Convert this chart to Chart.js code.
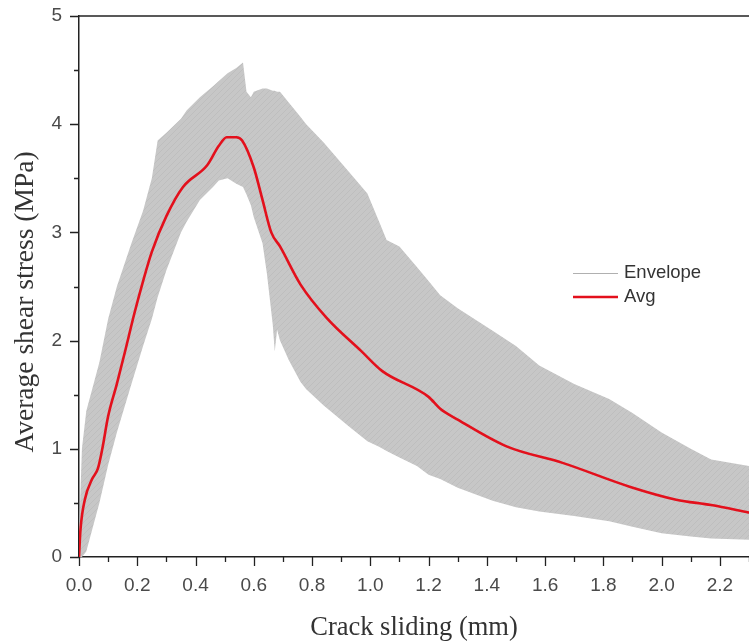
<!DOCTYPE html>
<html>
<head>
<meta charset="utf-8">
<script src="https://cdn.jsdelivr.net/npm/chart.js@4.4.1/dist/chart.umd.min.js"></script>
<style>
  html, body { margin: 0; padding: 0; background: #fff; }
  #wrap { position: relative; width: 749px; height: 644px; }
</style>
</head>
<body>
<div id="wrap"><canvas id="c" width="749" height="644"></canvas></div>
<script>
// ---- Data ----
const envX = [0.0, 0.01, 0.025, 0.05, 0.07, 0.10, 0.13, 0.18, 0.22, 0.25, 0.27, 0.30, 0.35, 0.37, 0.415, 0.46, 0.48, 0.51, 0.54, 0.563, 0.575, 0.59, 0.60, 0.63, 0.645, 0.665, 0.672, 0.68, 0.69, 0.72, 0.76, 0.78, 0.84, 0.93, 0.99, 1.03, 1.056, 1.10, 1.16, 1.20, 1.24, 1.30, 1.42, 1.50, 1.58, 1.70, 1.82, 1.90, 2.00, 2.10, 2.17, 2.30];
const envUpper = [0.2, 1.0, 1.35, 1.6, 1.8, 2.2, 2.5, 2.9, 3.2, 3.5, 3.85, 3.92, 4.05, 4.13, 4.25, 4.35, 4.4, 4.47, 4.52, 4.57, 4.3, 4.25, 4.3, 4.33, 4.33, 4.31, 4.31, 4.3, 4.3, 4.2, 4.07, 4.0, 3.83, 3.55, 3.36, 3.1, 2.93, 2.87, 2.68, 2.55, 2.42, 2.3, 2.09, 1.95, 1.77, 1.6, 1.46, 1.33, 1.15, 1.0, 0.9, 0.84];
const envLower = [0.0, 0.0, 0.05, 0.3, 0.5, 0.85, 1.15, 1.6, 1.95, 2.2, 2.4, 2.65, 3.0, 3.1, 3.3, 3.42, 3.48, 3.5, 3.45, 3.42, 3.35, 3.25, 3.14, 2.9, 2.62, 2.15, 1.9, 2.1, 2.0, 1.82, 1.62, 1.55, 1.4, 1.2, 1.07, 1.02, 0.98, 0.92, 0.84, 0.76, 0.72, 0.64, 0.52, 0.46, 0.42, 0.38, 0.33, 0.28, 0.22, 0.19, 0.17, 0.16];

const avgX = [0.0, 0.005, 0.02, 0.045, 0.065, 0.08, 0.10, 0.13, 0.16, 0.19, 0.22, 0.25, 0.30, 0.357, 0.44, 0.48, 0.507, 0.54, 0.56, 0.60, 0.63, 0.66, 0.69, 0.76, 0.85, 0.97, 1.04, 1.20, 1.24, 1.30, 1.47, 1.66, 1.89, 2.05, 2.17, 2.30];
const avgY = [0.0, 0.25, 0.53, 0.72, 0.82, 1.0, 1.3, 1.6, 1.92, 2.25, 2.55, 2.82, 3.15, 3.42, 3.62, 3.8, 3.88, 3.88, 3.85, 3.6, 3.3, 3.0, 2.87, 2.52, 2.21, 1.9, 1.72, 1.48, 1.37, 1.27, 1.02, 0.87, 0.65, 0.53, 0.48, 0.41];

const xTitle = 'Crack sliding (mm)';
const yTitle = 'Average shear stress (MPa)';
const legendLabels = ['Envelope', 'Avg'];

// ---- Envelope texture ----
function makePattern() {
  const p = document.createElement('canvas');
  p.width = 6; p.height = 6;
  const g = p.getContext('2d');
  g.fillStyle = '#c7c7c7';
  g.fillRect(0, 0, 6, 6);
  g.strokeStyle = '#bebebe';
  g.lineWidth = 1;
  g.beginPath();
  g.moveTo(0, 6); g.lineTo(6, 0);
  g.moveTo(-3, 3); g.lineTo(3, -3);
  g.moveTo(3, 9); g.lineTo(9, 3);
  g.stroke();
  return g.createPattern(p, 'repeat');
}
const ctx = document.getElementById('c').getContext('2d');
const envPattern = makePattern();

const toPts = (xs, ys) => xs.map((x, i) => ({ x: x, y: ys[i] }));

const isMajorX = v => Math.abs(Math.round(v * 10) % 2) === 0;
const isMajorY = v => Math.abs(v - Math.round(v)) < 1e-6;

const framePlugin = {
  id: 'frame',
  afterDraw(chart) {
    const c = chart.ctx;
    const a = chart.chartArea;
    const xs = chart.scales.x, ys = chart.scales.y;
    c.save();
    c.strokeStyle = '#222';
    c.lineWidth = 1.5;
    // top frame line
    c.beginPath();
    c.moveTo(a.left, a.top);
    c.lineTo(a.right, a.top);
    c.stroke();
    // tick marks
    c.lineWidth = 1.3;
    c.beginPath();
    xs.ticks.forEach(t => {
      const px = Math.round(xs.getPixelForValue(t.value)) + 0.5;
      const len = isMajorX(t.value) ? 9 : 5;
      c.moveTo(px, a.bottom);
      c.lineTo(px, a.bottom + len);
    });
    ys.ticks.forEach(t => {
      const py = Math.round(ys.getPixelForValue(t.value)) + 0.5;
      const len = isMajorY(t.value) ? 9 : 5;
      c.moveTo(a.left, py);
      c.lineTo(a.left - len, py);
    });
    c.stroke();
    // y axis title
    c.save();
    c.translate(26, 302);
    c.rotate(-Math.PI / 2);
    c.fillStyle = '#333';
    c.font = '27.5px "Liberation Serif", "Times New Roman", serif';
    c.textAlign = 'center';
    c.textBaseline = 'middle';
    c.fillText(yTitle, 0, 0);
    c.restore();
    // legend
    const lx = 573, lx2 = 618, ly1 = 273, ly2 = 297;
    c.strokeStyle = '#b0b0b0';
    c.lineWidth = 1;
    c.beginPath(); c.moveTo(lx, ly1 + 0.5); c.lineTo(lx2, ly1 + 0.5); c.stroke();
    c.strokeStyle = '#e3101c';
    c.lineWidth = 2.5;
    c.beginPath(); c.moveTo(lx, ly2); c.lineTo(lx2, ly2); c.stroke();
    c.fillStyle = '#333';
    c.font = '18.5px "Liberation Sans", Arial, sans-serif';
    c.textBaseline = 'middle';
    c.textAlign = 'left';
    c.fillText(legendLabels[0], 624, ly1);
    c.fillText(legendLabels[1], 624, ly2);
    c.restore();
  }
};

new Chart(ctx, {
  type: 'line',
  data: {
    datasets: [
      {
        label: 'Avg',
        data: toPts(avgX, avgY),
        borderColor: '#e3101c',
        borderWidth: 2.6,
        pointRadius: 0,
        fill: false,
        cubicInterpolationMode: 'monotone',
        order: 0
      },
      {
        label: 'Envelope upper',
        data: toPts(envX, envUpper),
        borderColor: 'rgba(0,0,0,0)',
        borderWidth: 0,
        pointRadius: 0,
        backgroundColor: envPattern,
        fill: '+1',
        tension: 0,
        order: 1
      },
      {
        label: 'Envelope lower',
        data: toPts(envX, envLower),
        borderColor: 'rgba(0,0,0,0)',
        borderWidth: 0,
        pointRadius: 0,
        fill: false,
        tension: 0,
        order: 2
      }
    ]
  },
  options: {
    responsive: false,
    animation: false,
    devicePixelRatio: 1,
    layout: { padding: { top: 16, right: 0, left: 0, bottom: 0 } },
    plugins: {
      legend: { display: false },
      tooltip: { enabled: false },
      filler: { drawTime: 'beforeDatasetsDraw', propagate: false }
    },
    scales: {
      x: {
        type: 'linear',
        min: 0,
        max: 2.3,
        afterFit(s) { s.height = 87; s.paddingLeft = 0; s.paddingRight = 0; },
        grid: { display: false, drawTicks: true, tickLength: 9 },
        border: { display: true, color: '#222', width: 1.5 },
        ticks: {
          stepSize: 0.1,
          autoSkip: false,
          maxRotation: 0,
          padding: 8,
          color: '#4a4a4a',
          font: { family: '"Liberation Sans", Arial, sans-serif', size: 19 },
          callback: v => isMajorX(v) ? v.toFixed(1) : ''
        },
        title: {
          display: true,
          text: xTitle,
          color: '#333',
          font: { family: '"Liberation Serif", "Times New Roman", serif', size: 26.5 },
          padding: { top: 0, bottom: 0 }
        }
      },
      y: {
        type: 'linear',
        min: 0,
        max: 5,
        afterFit(s) { s.width = 79; s.paddingTop = 0; s.paddingBottom = 0; },
        grid: { display: false, drawTicks: true, tickLength: 9 },
        border: { display: true, color: '#222', width: 1.5 },
        ticks: {
          stepSize: 0.5,
          autoSkip: false,
          padding: 8,
          color: '#4a4a4a',
          font: { family: '"Liberation Sans", Arial, sans-serif', size: 19 },
          callback: v => isMajorY(v) ? String(Math.round(v)) : ''
        },
        title: { display: false }
      }
    }
  },
  plugins: [framePlugin]
});
</script>
</body>
</html>
